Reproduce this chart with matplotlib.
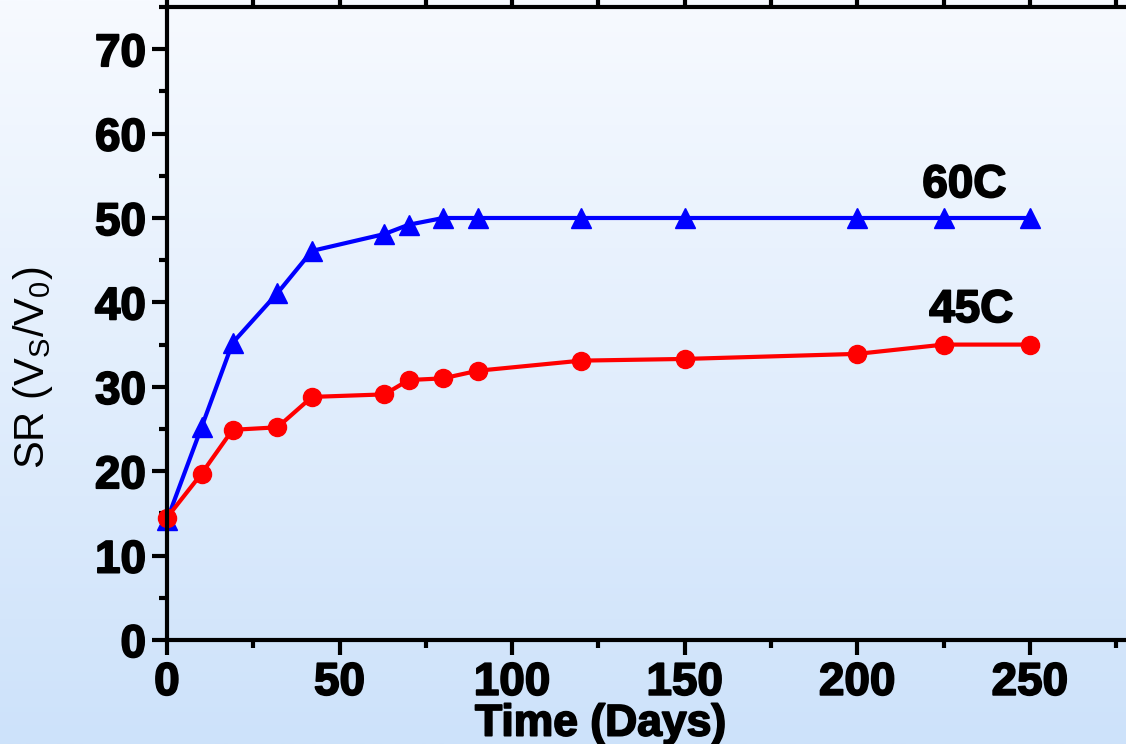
import numpy as np
import matplotlib
matplotlib.use("Agg")
import matplotlib.pyplot as plt
import matplotlib.patheffects as pe
from matplotlib.ticker import MultipleLocator, FixedLocator

days = [0, 10, 19, 32, 42, 63, 70, 80, 90, 120, 150, 200, 225, 250]
sr_60c = [14.2, 25.2, 35.2, 41.1, 46.1, 48.1, 49.2, 50, 50, 50, 50, 50, 50, 50]
sr_45c = [14.5, 19.7, 24.9, 25.2, 28.8, 29.1, 30.8, 31.0, 31.9, 33.1, 33.3, 33.9, 35.0, 35.0]
xticks = [0, 50, 100, 150, 200, 250]

plt.rcParams['font.family'] = ['Liberation Sans', 'DejaVu Sans']

fig = plt.figure(figsize=(11.26, 7.44), dpi=100)

# fondo degradado
bg = fig.add_axes([0, 0, 1, 1], zorder=0)
grad = np.linspace(0, 1, 256).reshape(-1, 1)
cmap = matplotlib.colors.LinearSegmentedColormap.from_list("bg", ["#f7faff", "#cde2fa"])
bg.imshow(grad, aspect='auto', cmap=cmap, extent=[0, 1, 0, 1], origin='upper')
bg.axis('off')

ax = fig.add_axes([0.1483, 0.1398, 0.9197, 0.8508], zorder=1)
ax.patch.set_alpha(0)

ax.plot(days, sr_60c, color='#0000ff', lw=3, marker='^', ms=15, clip_on=False)
ax.plot(days, sr_45c, color='#ff0000', lw=3, marker='o', ms=13, clip_on=False)

ax.set_xlim(0, 300)
ax.set_ylim(0, 75)
ax.xaxis.set_major_locator(FixedLocator(xticks))
ax.xaxis.set_minor_locator(MultipleLocator(25))
ax.yaxis.set_major_locator(MultipleLocator(10))
ax.yaxis.set_minor_locator(MultipleLocator(5))

grueso = [pe.withStroke(linewidth=1.3, foreground='black')]

for s in ax.spines.values():
    s.set_linewidth(3)
ax.tick_params(which='major', direction='out', length=11, width=3, pad=4, labelsize=33)
ax.tick_params(which='minor', direction='out', length=6, width=3)
ax.tick_params(top=True, which='both')
for lab in ax.get_xticklabels() + ax.get_yticklabels():
    lab.set_fontweight('bold')
    lab.set_path_effects(grueso)

ax.set_xlabel("Time (Days)", fontsize=32, fontweight='bold', path_effects=grueso)
ax.xaxis.set_label_coords(0.419, -0.1005)
ax.set_ylabel("SR (V$_\\mathregular{S}$/V$_\\mathregular{0}$)", fontsize=30)
ax.yaxis.set_label_coords(-0.108, 0.43)

ax.text(231, 53.9, "60C", fontsize=33, fontweight='bold', ha='center', va='center', path_effects=grueso)
ax.text(233, 39.1, "45C", fontsize=33, fontweight='bold', ha='center', va='center', path_effects=grueso)

fig.savefig("out.png", dpi=100)
